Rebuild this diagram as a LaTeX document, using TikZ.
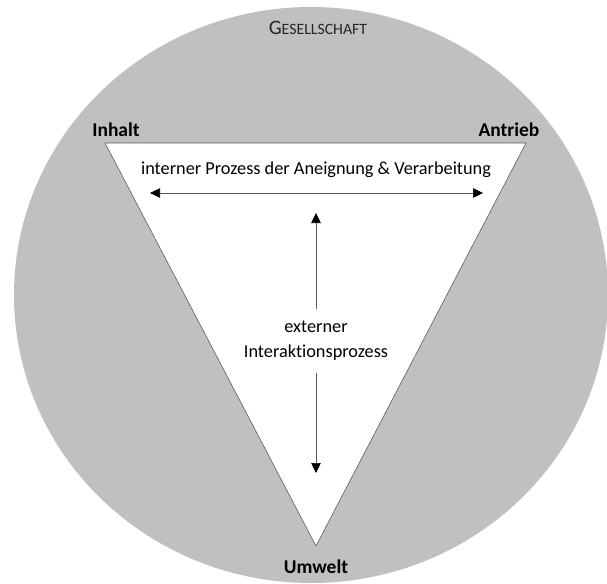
\documentclass[tikz,border=0pt]{standalone}
\usepackage{fontspec}
\setmainfont{Carlito}[Ligatures=NoCommon]
\usetikzlibrary{positioning,arrows.meta}
\definecolor{cgesell}{HTML}{C0C0C0}
\definecolor{clinie}{HTML}{5A5A5A}
\newcommand{\kapit}[2]{{\fontsize{20.5}{20}\selectfont #1}{\fontsize{15.8}{20}\selectfont #2}}
\tikzset{
  ecke/.style={font=\fontsize{19.5}{22}\selectfont\bfseries, inner sep=0pt},
  prozess/.style={font=\fontsize{18.3}{25}\selectfont, align=center, inner sep=0pt},
  titel/.style={inner sep=0pt, text=black!85},
  pfeil/.style={-{Triangle[length=10pt,width=9.5pt,color=black]}, draw=clinie, line width=0.6pt},
  pfeilb/.style={{Triangle[length=10pt,width=9.5pt,color=black]}-{Triangle[length=10pt,width=9.5pt,color=black]}, draw=clinie, line width=0.6pt},
}

\begin{document}
\begin{tikzpicture}[x=1pt,y=-1pt]
  \useasboundingbox (0,0) rectangle (607,583);
  \fill[cgesell] (311,295) ellipse [x radius=297, y radius=288];
  % Dreieck
  \coordinate (inh) at (105,143);
  \coordinate (ant) at (526,143);
  \coordinate (umw) at (316,546);
  \draw[clinie, fill=white, line width=0.6pt] (inh) -- (ant) -- (umw) -- cycle;
  % Beschriftungen
  \node[titel] (ges) at (318,28) {\kapit{G}{ESELLSCHAFT}};
  \node[ecke] (linh) at (116,130) {Inhalt};
  \node[ecke] (lant) at (509,130) {Antrieb};
  \node[ecke] (lumw) at (316,567) {Umwelt};
  \node[prozess] (int) at (316,170) {interner Prozess der Aneignung \& Verarbeitung};
  \node[prozess] (ext) at (316,341) {externer\\Interaktionsprozess};
  % Pfeile
  \coordinate (pl) at (150,193);
  \coordinate (pr) at (483,193);
  \coordinate (po) at (316,213);
  \coordinate (pu) at (316,473);
  \draw[pfeilb] (pl) -- (pr);
  \draw[pfeil, shorten <=12pt] (ext) -- (po);
  \draw[pfeil, shorten <=12pt] (ext) -- (pu);
\end{tikzpicture}
\end{document}
